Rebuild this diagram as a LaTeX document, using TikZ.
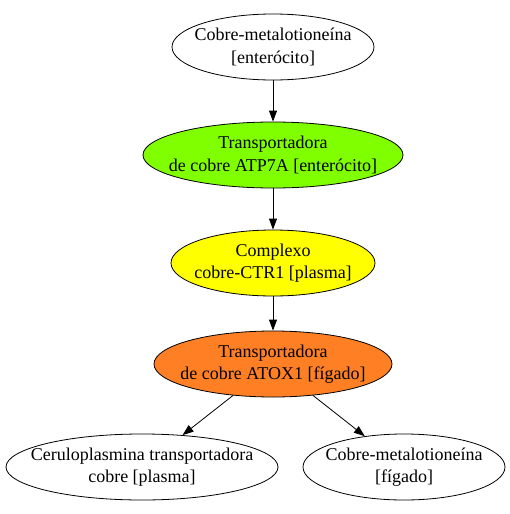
\documentclass[tikz,border=0pt]{standalone}
\usepackage{fontspec}
\setmainfont{Liberation Serif}
\usetikzlibrary{shapes.geometric,arrows.meta}
\definecolor{gchart}{HTML}{7FFF00}
\definecolor{gyellow}{HTML}{FFFF00}
\definecolor{gorange}{HTML}{FF7F24}
\tikzset{
  ell/.style={ellipse,draw=black,line width=0.8pt,inner sep=0pt,minimum height=66pt},
  lbl/.style={align=center,inner sep=0pt,font=\fontsize{18}{22.5}\selectfont},
  arr/.style={line width=0.8pt,-{Triangle[length=11pt,width=8pt]}}
}
\begin{document}
\begin{tikzpicture}[x=1pt,y=-1pt]
\useasboundingbox (0,0) rectangle (509,514);
\node[ell,minimum width=202pt,label={[lbl]center:{Cobre-metalotioneína\\{}[enterócito]}}] (a) at (273,47) {};
\node[ell,fill=gchart,minimum width=260pt,label={[lbl]center:{Transportadora\\de cobre ATP7A [enterócito]}}] (b) at (273,155) {};
\node[ell,fill=gyellow,minimum width=204pt,label={[lbl]center:{Complexo\\cobre-CTR1 [plasma]}}] (c) at (273,263) {};
\node[ell,fill=gorange,minimum width=238pt,label={[lbl]center:{Transportadora\\de cobre ATOX1 [fígado]}}] (d) at (273,364) {};
\node[ell,minimum width=272pt,label={[lbl]center:{Ceruloplasmina transportadora\\cobre [plasma]}}] (e) at (142,467) {};
\node[ell,minimum width=202pt,label={[lbl]center:{Cobre-metalotioneína\\{}[fígado]}}] (f) at (404,467) {};
\draw[arr] (a) -- (b);
\draw[arr] (b) -- (c);
\draw[arr] (c) -- (d);
\draw[arr] (d) -- (e);
\draw[arr] (d) -- (f);
\end{tikzpicture}
\end{document}
